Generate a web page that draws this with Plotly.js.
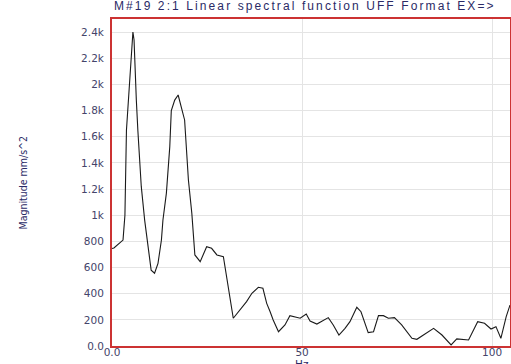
<!DOCTYPE html>
<html>
<head>
<meta charset="utf-8">
<script src="https://cdn.plot.ly/plotly-3.0.1.min.js"></script>
<style>html,body{margin:0;padding:0;background:#fff;}#chart{width:511px;height:364px;}
#chart .gtitle{letter-spacing:2.1px;}
</style>
</head>
<body>
<div id="chart"></div>
<script>
const freqHz = [0.0,0.5,2.9,3.4,3.8,4.7,5.1,5.5,5.8,6.0,6.4,6.8,7.3,7.7,8.6,9.0,9.5,9.9,10.3,11.2,12.1,13.0,13.4,14.3,15.2,15.6,16.5,17.4,18.2,19.1,20.1,21.0,21.8,23.2,24.9,26.2,27.6,29.3,31.9,33.2,35.4,36.8,38.5,39.7,40.7,41.6,42.4,43.8,45.5,46.8,48.2,49.5,51.1,52.1,53.9,55.6,56.9,58.2,59.7,61.3,62.6,64.4,65.5,67.4,68.8,70.1,71.4,72.7,74.3,76.2,78.9,80.2,81.9,84.6,86.8,89.2,90.7,93.8,96.2,98.0,99.7,101.0,102.3,103.7,104.7];
const magnitude = [745,750,810,1000,1650,2030,2190,2400,2340,2160,1880,1650,1400,1220,960,860,734,632,580,556,632,810,963,1167,1524,1800,1880,1919,1830,1728,1269,1014,696,645,759,747,696,683,212,262,339,403,449,441,326,262,199,109,161,232,224,212,245,191,168,199,217,161,84,135,186,296,262,102,109,232,232,212,217,161,59,51,84,135,84,8,54,46,186,174,130,148,59,224,313];
const yTickVals = [0,200,400,600,800,1000,1200,1400,1600,1800,2000,2200,2400];
const yTickText = ['0.0','200','400','600','800','1k','1.2k','1.4k','1.6k','1.8k','2k','2.2k','2.4k'];
const xTickVals = [0,50,100];
const xTickText = ['0.0','50','100'];
const titleText = 'M#19 2:1 Linear spectral function UFF Format EX=>';
const yTitle = 'Magnitude mm/s^2';
const xTitle = 'Hz';

const tickFont = {family:'DejaVu Sans, Verdana, sans-serif', size:10.5, color:'#44446a'};
Plotly.newPlot('chart', [{
  x: freqHz, y: magnitude, type:'scatter', mode:'lines',
  line:{color:'#1a1a1a', width:1.1}
}], {
  width:511, height:364,
  margin:{l:112, r:1, t:19, b:18},
  paper_bgcolor:'#ffffff', plot_bgcolor:'#ffffff',
  showlegend:false,
  title:{text:titleText, font:{family:'Liberation Sans, Arial, sans-serif', size:12, color:'#2a2a66'}, x:114/511, xanchor:'left', xref:'container', y:1, yref:'container', yanchor:'top', pad:{t:2}},
  xaxis:{range:[0,104.7], tickvals:xTickVals, ticktext:xTickText, showgrid:true, gridcolor:'#e4e4e4', gridwidth:1,
    zeroline:false, showline:true, linecolor:'#cc3333', linewidth:2, mirror:true, ticks:'', tickfont:tickFont, ticklabelstandoff:-5, fixedrange:true},
  yaxis:{range:[0,2500], tickvals:yTickVals, ticktext:yTickText, showgrid:true, gridcolor:'#e4e4e4', gridwidth:1,
    zeroline:false, showline:true, linecolor:'#cc3333', linewidth:2, mirror:true, ticks:'', tickfont:tickFont, ticklabelstandoff:4, fixedrange:true},
  annotations:[
    {text:yTitle, xref:'paper', yref:'paper', x:-90/398, y:0.5, xanchor:'center', yanchor:'middle', textangle:-90, showarrow:false,
     font:{family:'Liberation Sans Narrow, Arial Narrow, DejaVu Sans Condensed, sans-serif', size:10.5, color:'#2a2a66'}},
    {text:xTitle, xref:'x', yref:'paper', x:50, y:0, xanchor:'center', yanchor:'top', yshift:-10, showarrow:false,
     font:{family:'DejaVu Sans, Verdana, sans-serif', size:10.5, color:'#2a2a66'}}
  ]
}, {displayModeBar:false, staticPlot:true});
</script>
</body>
</html>
